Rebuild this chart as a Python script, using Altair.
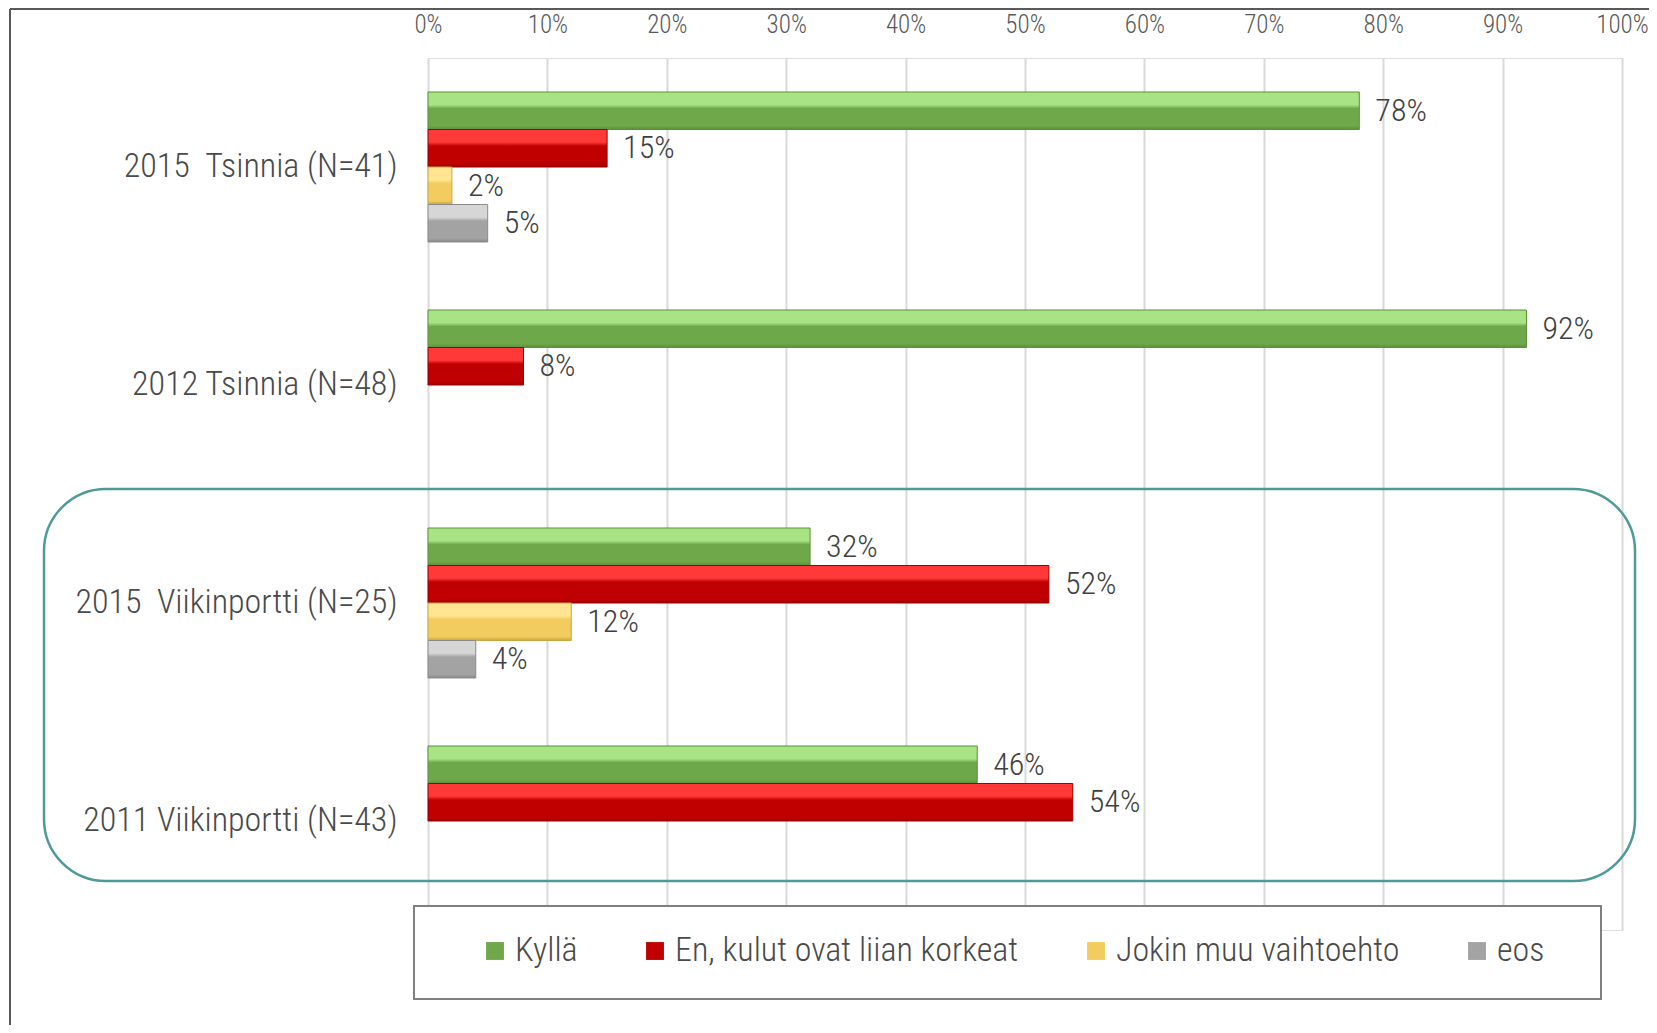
import altair as alt
import pandas as pd

# ---- data ----
groups = ["2015\u00a0\u00a0Tsinnia (N=41)", "2012 Tsinnia (N=48)",
          "2015\u00a0\u00a0Viikinportti (N=25)", "2011 Viikinportti (N=43)"]
series = ["Kyllä", "En, kulut ovat liian korkeat", "Jokin muu vaihtoehto", "eos"]
kylla = [78, 92, 32, 46]
en_kulut = [15, 8, 52, 54]
jokin = [2, None, 12, None]
eos = [5, None, 4, None]
x_ticks = [0, 10, 20, 30, 40, 50, 60, 70, 80, 90, 100]

rows = []
for s, vals in zip(series, [kylla, en_kulut, jokin, eos]):
    for g, v in zip(groups, vals):
        if v is not None:
            rows.append({"group": g, "series": s, "value": v / 100.0,
                         "label": f"{v}%"})
df = pd.DataFrame(rows)

# ---- styles ----
FONT = "Roboto Condensed, Liberation Sans Narrow, DejaVu Sans Condensed, sans-serif"
WEIGHT = 300
light = {"Kyllä": "#a8e484", "En, kulut ovat liian korkeat": "#ff3838",
         "Jokin muu vaihtoehto": "#ffe591", "eos": "#d6d6d6"}
base = {"Kyllä": "#6fa84a", "En, kulut ovat liian korkeat": "#c00000",
        "Jokin muu vaihtoehto": "#f2cc5e", "eos": "#a3a3a3"}
edge = {"Kyllä": "#5b8f3a", "En, kulut ovat liian korkeat": "#9c0000",
        "Jokin muu vaihtoehto": "#c9a540", "eos": "#8a8a8a"}

W, H = 1194, 872

xscale = alt.Scale(domain=[0, 1], nice=False)
yscale = alt.Scale(domain=groups, paddingInner=0.312, paddingOuter=0.156)
yoff_scale = alt.Scale(domain=series, paddingInner=0, paddingOuter=0)

X = alt.X("value:Q", scale=xscale,
          axis=alt.Axis(orient="top", values=[t / 100 for t in x_ticks], format=".0%",
                        domain=False, ticks=False, grid=True, gridColor="#d9d9d9",
                        gridWidth=2, labelFontSize=25, labelColor="#595959",
                        labelFont=FONT, labelFontWeight=WEIGHT, labelPadding=21,
                        labelFlush=False, title=None))
Y = alt.Y("group:N", scale=yscale,
          axis=alt.Axis(domain=False, ticks=False, grid=False, labelFontSize=34,
                        labelColor="#4a4a4a", labelFont=FONT, labelFontWeight=WEIGHT,
                        labelPadding=31, labelLimit=600, title=None))
YO = alt.YOffset("series:N", scale=yoff_scale)

one = pd.DataFrame({"k": [0]})

layers = []

# outer frame (top and left lines)
layers.append(alt.Chart(one).mark_rule(color="#595959", strokeWidth=2).encode(
    x=alt.value(-418), x2=alt.value(W + 30), y=alt.value(-49)))
layers.append(alt.Chart(one).mark_rule(color="#595959", strokeWidth=2).encode(
    x=alt.value(-418), y=alt.value(-49), y2=alt.value(H + 100)))

# bars with bevel-like gradient
for s in series:
    grad = alt.LinearGradient(
        gradient="linear", x1=0, y1=0, x2=0, y2=1,
        stops=[alt.GradientStop(offset=0, color=light[s]),
               alt.GradientStop(offset=0.34, color=light[s]),
               alt.GradientStop(offset=0.44, color=base[s]),
               alt.GradientStop(offset=0.9, color=base[s]),
               alt.GradientStop(offset=1, color=edge[s])])
    layers.append(
        alt.Chart(df).transform_filter(alt.datum.series == s)
        .mark_bar(color=grad, stroke=edge[s], strokeWidth=1)
        .encode(x=X, y=Y, yOffset=YO)
    )

# value labels
layers.append(
    alt.Chart(df).mark_text(align="left", baseline="middle", dx=16, fontSize=32,
                            font=FONT, fontWeight=WEIGHT, color="#404040")
    .encode(x=X, y=Y, yOffset=YO, text="label:N")
)

# teal rounded highlight box
layers.append(alt.Chart(one).mark_rect(fill=None, stroke="#4e9a9a", strokeWidth=2.5,
                                       cornerRadius=62).encode(
    x=alt.value(-384), x2=alt.value(1207), y=alt.value(431), y2=alt.value(823)))

# legend box
layers.append(alt.Chart(one).mark_rect(fill="white", stroke="#808080", strokeWidth=2).encode(
    x=alt.value(-14), x2=alt.value(1173), y=alt.value(848), y2=alt.value(941)))

# legend provider (invisible marks)
layers.append(
    alt.Chart(df).mark_square(opacity=0, size=1)
    .encode(x=X, y=Y, yOffset=YO,
            color=alt.Color("series:N",
                            scale=alt.Scale(domain=series, range=[base[s] for s in series]),
                            legend=alt.Legend(orient="none", legendX=50, legendY=876,
                                              direction="horizontal", title=None,
                                              symbolType="square", symbolSize=320,
                                              symbolOpacity=1, symbolStrokeWidth=0,
                                              labelFontSize=34, labelFont=FONT,
                                              labelFontWeight=WEIGHT,
                                              labelColor="#4a4a4a", labelOffset=3,
                                              columnPadding=60, labelLimit=600,
                                              padding=0)))
)

chart = alt.layer(*layers).properties(
    width=W, height=H,
    autosize=alt.AutoSizeParams(type="none"),
    padding={"left": 420, "top": 50, "right": 27, "bottom": 95},
).configure_view(stroke=None).configure(background="white")

chart.save("out.html", embed_options={"renderer": "svg", "actions": False})
